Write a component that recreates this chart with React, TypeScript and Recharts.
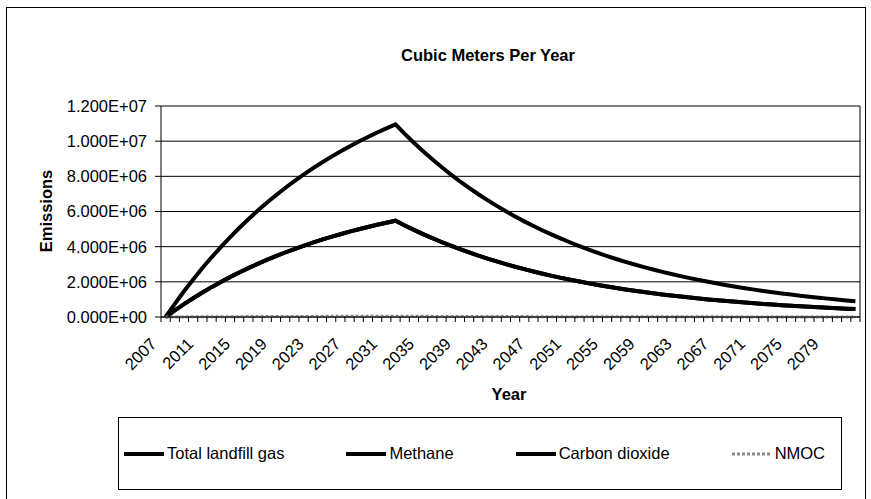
import React from 'react';
import { LineChart, Line, XAxis, YAxis, CartesianGrid, Legend, ReferenceLine } from 'recharts';

const years = [
  2007, 2008, 2009, 2010, 2011, 2012, 2013, 2014, 2015, 2016, 2017, 2018, 2019, 2020, 2021, 2022,
  2023, 2024, 2025, 2026, 2027, 2028, 2029, 2030, 2031, 2032, 2033, 2034, 2035, 2036, 2037, 2038,
  2039, 2040, 2041, 2042, 2043, 2044, 2045, 2046, 2047, 2048, 2049, 2050, 2051, 2052, 2053, 2054,
  2055, 2056, 2057, 2058, 2059, 2060, 2061, 2062, 2063, 2064, 2065, 2066, 2067, 2068, 2069, 2070,
  2071, 2072, 2073, 2074, 2075, 2076, 2077, 2078, 2079, 2080, 2081, 2082,
];

const tickYears = [2007, 2011, 2015, 2019, 2023, 2027, 2031, 2035, 2039, 2043, 2047, 2051, 2055, 2059, 2063, 2067, 2071, 2075, 2079];

const yTicks = [0, 2000000, 4000000, 6000000, 8000000, 10000000, 12000000];

// values in millions of cubic meters per year
const totalGas = [
  0, 0.749, 1.461, 2.138, 2.783, 3.395, 3.978, 4.533, 5.061, 5.562, 6.040, 6.494, 6.926, 7.337, 7.727, 8.099,
  8.453, 8.789, 9.109, 9.414, 9.703, 9.979, 10.240, 10.490, 10.727, 10.952, 10.418, 9.910, 9.427, 8.967, 8.530, 8.114,
  7.718, 7.341, 6.983, 6.643, 6.319, 6.011, 5.718, 5.439, 5.173, 4.921, 4.681, 4.453, 4.236, 4.029, 3.833, 3.646,
  3.468, 3.299, 3.138, 2.985, 2.839, 2.701, 2.569, 2.444, 2.325, 2.211, 2.103, 2.001, 1.903, 1.810, 1.722, 1.638,
  1.558, 1.482, 1.410, 1.341, 1.276, 1.214, 1.154, 1.098, 1.045, 0.994, 0.945, 0.899,
];

const methane = [
  0, 0.374, 0.730, 1.069, 1.391, 1.698, 1.989, 2.267, 2.530, 2.781, 3.020, 3.247, 3.463, 3.668, 3.864, 4.050,
  4.226, 4.395, 4.555, 4.707, 4.852, 4.989, 5.120, 5.245, 5.363, 5.476, 5.209, 4.955, 4.713, 4.483, 4.265, 4.057,
  3.859, 3.671, 3.492, 3.321, 3.159, 3.005, 2.859, 2.719, 2.587, 2.461, 2.341, 2.226, 2.118, 2.015, 1.916, 1.823,
  1.734, 1.649, 1.569, 1.492, 1.420, 1.350, 1.285, 1.222, 1.162, 1.106, 1.052, 1.000, 0.952, 0.905, 0.861, 0.819,
  0.779, 0.741, 0.705, 0.671, 0.638, 0.607, 0.577, 0.549, 0.522, 0.497, 0.473, 0.450,
];

const carbonDioxide = [
  0, 0.374, 0.730, 1.069, 1.391, 1.698, 1.989, 2.267, 2.530, 2.781, 3.020, 3.247, 3.463, 3.668, 3.864, 4.050,
  4.226, 4.395, 4.555, 4.707, 4.852, 4.989, 5.120, 5.245, 5.363, 5.476, 5.209, 4.955, 4.713, 4.483, 4.265, 4.057,
  3.859, 3.671, 3.492, 3.321, 3.159, 3.005, 2.859, 2.719, 2.587, 2.461, 2.341, 2.226, 2.118, 2.015, 1.916, 1.823,
  1.734, 1.649, 1.569, 1.492, 1.420, 1.350, 1.285, 1.222, 1.162, 1.106, 1.052, 1.000, 0.952, 0.905, 0.861, 0.819,
  0.779, 0.741, 0.705, 0.671, 0.638, 0.607, 0.577, 0.549, 0.522, 0.497, 0.473, 0.450,
];

const nmoc = [
  0, 0.003, 0.006, 0.009, 0.011, 0.014, 0.016, 0.018, 0.020, 0.022, 0.024, 0.026, 0.028, 0.029, 0.031, 0.032,
  0.034, 0.035, 0.036, 0.038, 0.039, 0.040, 0.041, 0.042, 0.043, 0.044, 0.042, 0.040, 0.038, 0.036, 0.034, 0.032,
  0.031, 0.029, 0.028, 0.027, 0.025, 0.024, 0.023, 0.022, 0.021, 0.020, 0.019, 0.018, 0.017, 0.016, 0.015, 0.015,
  0.014, 0.013, 0.013, 0.012, 0.011, 0.011, 0.010, 0.010, 0.009, 0.009, 0.008, 0.008, 0.008, 0.007, 0.007, 0.007,
  0.006, 0.006, 0.006, 0.005, 0.005, 0.005, 0.005, 0.004, 0.004, 0.004, 0.004, 0.004,
];

const seriesNames = ['Total landfill gas', 'Methane', 'Carbon dioxide', 'NMOC'];

const data = years.map((year, i) => ({
  year,
  total: totalGas[i] * 1e6,
  methane: methane[i] * 1e6,
  co2: carbonDioxide[i] * 1e6,
  nmoc: nmoc[i] * 1e6,
}));

const series = [
  { key: 'total', name: seriesNames[0], stroke: '#000000', width: 4, dash: undefined as string | undefined },
  { key: 'methane', name: seriesNames[1], stroke: '#000000', width: 4, dash: undefined as string | undefined },
  { key: 'co2', name: seriesNames[2], stroke: '#000000', width: 4, dash: undefined as string | undefined },
  { key: 'nmoc', name: seriesNames[3], stroke: '#8a8a8a', width: 3, dash: '3 2' },
];

const FONT = "Arial, 'Liberation Sans', sans-serif";
const FS = 16.5;
const W = 871;
const H = 499;
const PLOT_LEFT = 161;
const PLOT_RIGHT = 860;
const PLOT_TOP = 106;
const PLOT_BOTTOM = 317;
const HALF_BAND = (PLOT_RIGHT - PLOT_LEFT) / years.length / 2;

function sci(v: number): string {
  const [m, e] = v.toExponential(3).split('e');
  const sign = e[0] === '-' ? '-' : '+';
  const digits = e.replace(/^[+-]/, '').padStart(2, '0');
  return `${m.toUpperCase()}E${sign}${digits}`;
}

function YearTick(props: any) {
  const { x, y, payload, index } = props;
  const year = payload.value;
  const showLabel = tickYears.includes(year);
  const lx = x - 8;
  const ly = y + 28;
  const isLast = index === years.length - 1;
  return (
    <g>
      <line x1={x - HALF_BAND} x2={x - HALF_BAND} y1={y} y2={y + 5} stroke="#000" strokeWidth={1} />
      {isLast && <line x1={x + HALF_BAND} x2={x + HALF_BAND} y1={y} y2={y + 5} stroke="#000" strokeWidth={1} />}
      {showLabel && (
        <text
          x={lx}
          y={ly}
          transform={`rotate(-45, ${lx}, ${ly})`}
          textAnchor="end"
          fontFamily={FONT}
          fontSize={FS}
          fill="#000"
        >
          {year}
        </text>
      )}
    </g>
  );
}

function LegendBox(props: any) {
  const payload = (props.payload || []).slice().sort(
    (a: any, b: any) => series.findIndex((s) => s.key === a.dataKey) - series.findIndex((s) => s.key === b.dataKey)
  );
  return (
    <div
      style={{
        width: '100%',
        height: '100%',
        boxSizing: 'border-box',
        border: '1px solid #000',
        background: '#fff',
        display: 'flex',
        alignItems: 'center',
        paddingLeft: 5,
        gap: 62,
        fontFamily: FONT,
        fontSize: FS,
        color: '#000',
      }}
    >
      {payload.map((item: any) => {
        const s = series.find((d) => d.key === item.dataKey)!;
        return (
          <div key={item.dataKey} style={{ display: 'flex', alignItems: 'center', whiteSpace: 'nowrap' }}>
            <svg width={40} height={8} style={{ display: 'block' }}>
              <line x1={0} x2={40} y1={4} y2={4} stroke={s.stroke} strokeWidth={s.width} strokeDasharray={s.dash} />
            </svg>
            <span style={{ marginLeft: 3 }}>{item.value}</span>
          </div>
        );
      })}
    </div>
  );
}

export default function App() {
  return (
    <div style={{ position: 'absolute', left: 0, top: 0, width: W, height: H, background: '#fff', fontFamily: FONT }}>
      <LineChart
        width={W}
        height={H}
        data={data}
        margin={{ top: PLOT_TOP, right: W - PLOT_RIGHT, bottom: 0, left: 0 }}
      >
        <CartesianGrid horizontal vertical={false} stroke="#000" strokeWidth={1} />
        <XAxis
          dataKey="year"
          type="number"
          domain={[years[0] - 0.5, years[years.length - 1] + 0.5]}
          ticks={years}
          interval={0}
          tickLine={false}
          tickSize={0}
          tickMargin={0}
          tick={<YearTick />}
          axisLine={{ stroke: '#000', strokeWidth: 1 }}
          height={H - PLOT_BOTTOM}
          allowDataOverflow
        />
        <YAxis
          domain={[0, 12000000]}
          ticks={yTicks}
          interval={0}
          tickFormatter={sci}
          width={PLOT_LEFT}
          tickSize={6}
          tickMargin={8}
          axisLine={{ stroke: '#000', strokeWidth: 1 }}
          tickLine={{ stroke: '#000', strokeWidth: 1 }}
          tick={{ fill: '#000', fontSize: FS, fontFamily: FONT }}
        />
        <ReferenceLine x={years[years.length - 1] + 0.5} stroke="#000" strokeWidth={1} />
        {series.map((s) => (
          <Line
            key={s.key}
            type="linear"
            dataKey={s.key}
            name={s.name}
            stroke={s.stroke}
            strokeWidth={s.width}
            strokeDasharray={s.dash}
            dot={false}
            activeDot={false}
            isAnimationActive={false}
          />
        ))}
        <Legend
          layout="horizontal"
          verticalAlign="middle"
          align="center"
          width={724}
          height={73}
          wrapperStyle={{ left: 118, top: 417, width: 724, height: 73 }}
          content={<LegendBox />}
        />
      </LineChart>
      <svg
        width={W}
        height={H}
        style={{ position: 'absolute', left: 0, top: 0, pointerEvents: 'none' }}
      >
        <rect x={6.5} y={7.5} width={859} height={495} fill="none" stroke="#000" strokeWidth={1} />
        <text x={488} y={61} textAnchor="middle" fontFamily={FONT} fontSize={FS} fontWeight="bold" fill="#000">
          Cubic Meters Per Year
        </text>
        <text
          x={52}
          y={211}
          transform="rotate(-90, 52, 211)"
          textAnchor="middle"
          fontFamily={FONT}
          fontSize={FS}
          fontWeight="bold"
          fill="#000"
        >
          Emissions
        </text>
        <text x={509} y={400} textAnchor="middle" fontFamily={FONT} fontSize={FS} fontWeight="bold" fill="#000">
          Year
        </text>
      </svg>
    </div>
  );
}
